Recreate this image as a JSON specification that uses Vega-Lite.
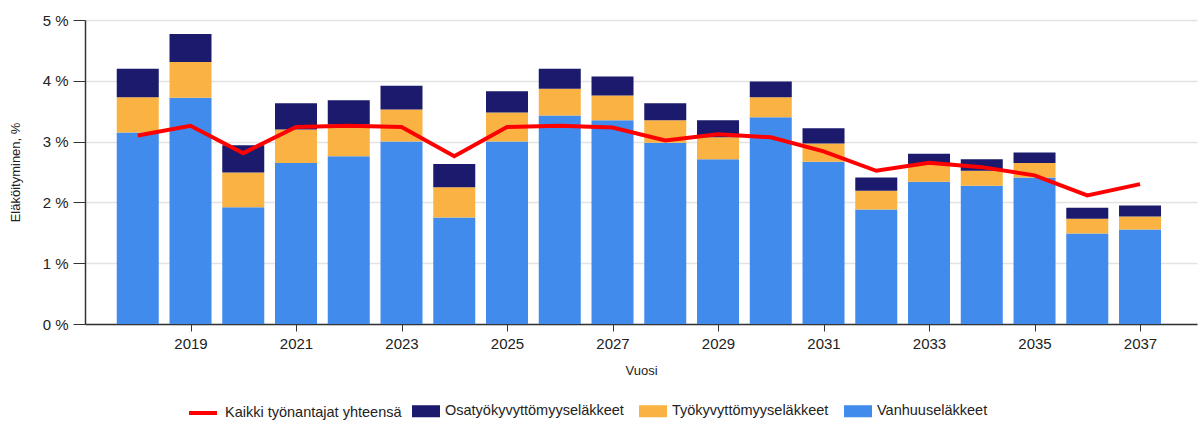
{
  "$schema": "https://vega.github.io/schema/vega-lite/v6.json",
  "width": 1112,
  "height": 304,
  "autosize": {"type": "none"},
  "padding": {"left": 85, "top": 20, "right": 4, "bottom": 102},
  "config": {
    "font": "Liberation Sans",
    "view": {"stroke": null},
    "axis": {"labelFont": "Liberation Sans", "titleFont": "Liberation Sans", "titleFontWeight": "normal", "labelColor": "#222", "titleColor": "#222", "domainColor": "#333", "tickColor": "#333"}
  },
  "datasets": {
    "bars": [
      {"Vuosi": 2018, "tyyppi": "Vanhuuseläkkeet", "arvo": 3.15},
      {"Vuosi": 2018, "tyyppi": "Työkyvyttömyyseläkkeet", "arvo": 0.58},
      {"Vuosi": 2018, "tyyppi": "Osatyökyvyttömyyseläkkeet", "arvo": 0.47},
      {"Vuosi": 2019, "tyyppi": "Vanhuuseläkkeet", "arvo": 3.72},
      {"Vuosi": 2019, "tyyppi": "Työkyvyttömyyseläkkeet", "arvo": 0.59},
      {"Vuosi": 2019, "tyyppi": "Osatyökyvyttömyyseläkkeet", "arvo": 0.46},
      {"Vuosi": 2020, "tyyppi": "Vanhuuseläkkeet", "arvo": 1.92},
      {"Vuosi": 2020, "tyyppi": "Työkyvyttömyyseläkkeet", "arvo": 0.57},
      {"Vuosi": 2020, "tyyppi": "Osatyökyvyttömyyseläkkeet", "arvo": 0.45},
      {"Vuosi": 2021, "tyyppi": "Vanhuuseläkkeet", "arvo": 2.65},
      {"Vuosi": 2021, "tyyppi": "Työkyvyttömyyseläkkeet", "arvo": 0.55},
      {"Vuosi": 2021, "tyyppi": "Osatyökyvyttömyyseläkkeet", "arvo": 0.43},
      {"Vuosi": 2022, "tyyppi": "Vanhuuseläkkeet", "arvo": 2.76},
      {"Vuosi": 2022, "tyyppi": "Työkyvyttömyyseläkkeet", "arvo": 0.52},
      {"Vuosi": 2022, "tyyppi": "Osatyökyvyttömyyseläkkeet", "arvo": 0.40},
      {"Vuosi": 2023, "tyyppi": "Vanhuuseläkkeet", "arvo": 3.00},
      {"Vuosi": 2023, "tyyppi": "Työkyvyttömyyseläkkeet", "arvo": 0.53},
      {"Vuosi": 2023, "tyyppi": "Osatyökyvyttömyyseläkkeet", "arvo": 0.39},
      {"Vuosi": 2024, "tyyppi": "Vanhuuseläkkeet", "arvo": 1.75},
      {"Vuosi": 2024, "tyyppi": "Työkyvyttömyyseläkkeet", "arvo": 0.50},
      {"Vuosi": 2024, "tyyppi": "Osatyökyvyttömyyseläkkeet", "arvo": 0.38},
      {"Vuosi": 2025, "tyyppi": "Vanhuuseläkkeet", "arvo": 3.00},
      {"Vuosi": 2025, "tyyppi": "Työkyvyttömyyseläkkeet", "arvo": 0.48},
      {"Vuosi": 2025, "tyyppi": "Osatyökyvyttömyyseläkkeet", "arvo": 0.35},
      {"Vuosi": 2026, "tyyppi": "Vanhuuseläkkeet", "arvo": 3.43},
      {"Vuosi": 2026, "tyyppi": "Työkyvyttömyyseläkkeet", "arvo": 0.44},
      {"Vuosi": 2026, "tyyppi": "Osatyökyvyttömyyseläkkeet", "arvo": 0.33},
      {"Vuosi": 2027, "tyyppi": "Vanhuuseläkkeet", "arvo": 3.35},
      {"Vuosi": 2027, "tyyppi": "Työkyvyttömyyseläkkeet", "arvo": 0.41},
      {"Vuosi": 2027, "tyyppi": "Osatyökyvyttömyyseläkkeet", "arvo": 0.31},
      {"Vuosi": 2028, "tyyppi": "Vanhuuseläkkeet", "arvo": 2.98},
      {"Vuosi": 2028, "tyyppi": "Työkyvyttömyyseläkkeet", "arvo": 0.37},
      {"Vuosi": 2028, "tyyppi": "Osatyökyvyttömyyseläkkeet", "arvo": 0.28},
      {"Vuosi": 2029, "tyyppi": "Vanhuuseläkkeet", "arvo": 2.71},
      {"Vuosi": 2029, "tyyppi": "Työkyvyttömyyseläkkeet", "arvo": 0.36},
      {"Vuosi": 2029, "tyyppi": "Osatyökyvyttömyyseläkkeet", "arvo": 0.28},
      {"Vuosi": 2030, "tyyppi": "Vanhuuseläkkeet", "arvo": 3.40},
      {"Vuosi": 2030, "tyyppi": "Työkyvyttömyyseläkkeet", "arvo": 0.33},
      {"Vuosi": 2030, "tyyppi": "Osatyökyvyttömyyseläkkeet", "arvo": 0.26},
      {"Vuosi": 2031, "tyyppi": "Vanhuuseläkkeet", "arvo": 2.67},
      {"Vuosi": 2031, "tyyppi": "Työkyvyttömyyseläkkeet", "arvo": 0.30},
      {"Vuosi": 2031, "tyyppi": "Osatyökyvyttömyyseläkkeet", "arvo": 0.25},
      {"Vuosi": 2032, "tyyppi": "Vanhuuseläkkeet", "arvo": 1.885},
      {"Vuosi": 2032, "tyyppi": "Työkyvyttömyyseläkkeet", "arvo": 0.305},
      {"Vuosi": 2032, "tyyppi": "Osatyökyvyttömyyseläkkeet", "arvo": 0.22},
      {"Vuosi": 2033, "tyyppi": "Vanhuuseläkkeet", "arvo": 2.34},
      {"Vuosi": 2033, "tyyppi": "Työkyvyttömyyseläkkeet", "arvo": 0.28},
      {"Vuosi": 2033, "tyyppi": "Osatyökyvyttömyyseläkkeet", "arvo": 0.18},
      {"Vuosi": 2034, "tyyppi": "Vanhuuseläkkeet", "arvo": 2.275},
      {"Vuosi": 2034, "tyyppi": "Työkyvyttömyyseläkkeet", "arvo": 0.245},
      {"Vuosi": 2034, "tyyppi": "Osatyökyvyttömyyseläkkeet", "arvo": 0.19},
      {"Vuosi": 2035, "tyyppi": "Vanhuuseläkkeet", "arvo": 2.41},
      {"Vuosi": 2035, "tyyppi": "Työkyvyttömyyseläkkeet", "arvo": 0.24},
      {"Vuosi": 2035, "tyyppi": "Osatyökyvyttömyyseläkkeet", "arvo": 0.17},
      {"Vuosi": 2036, "tyyppi": "Vanhuuseläkkeet", "arvo": 1.49},
      {"Vuosi": 2036, "tyyppi": "Työkyvyttömyyseläkkeet", "arvo": 0.24},
      {"Vuosi": 2036, "tyyppi": "Osatyökyvyttömyyseläkkeet", "arvo": 0.18},
      {"Vuosi": 2037, "tyyppi": "Vanhuuseläkkeet", "arvo": 1.555},
      {"Vuosi": 2037, "tyyppi": "Työkyvyttömyyseläkkeet", "arvo": 0.215},
      {"Vuosi": 2037, "tyyppi": "Osatyökyvyttömyyseläkkeet", "arvo": 0.18}
    ],
    "line": [
      {"Vuosi": 2018, "yhteensa": 3.10},
      {"Vuosi": 2019, "yhteensa": 3.26},
      {"Vuosi": 2020, "yhteensa": 2.81},
      {"Vuosi": 2021, "yhteensa": 3.24},
      {"Vuosi": 2022, "yhteensa": 3.26},
      {"Vuosi": 2023, "yhteensa": 3.24},
      {"Vuosi": 2024, "yhteensa": 2.76},
      {"Vuosi": 2025, "yhteensa": 3.24},
      {"Vuosi": 2026, "yhteensa": 3.26},
      {"Vuosi": 2027, "yhteensa": 3.23},
      {"Vuosi": 2028, "yhteensa": 3.02},
      {"Vuosi": 2029, "yhteensa": 3.12},
      {"Vuosi": 2030, "yhteensa": 3.07},
      {"Vuosi": 2031, "yhteensa": 2.84},
      {"Vuosi": 2032, "yhteensa": 2.52},
      {"Vuosi": 2033, "yhteensa": 2.65},
      {"Vuosi": 2034, "yhteensa": 2.58},
      {"Vuosi": 2035, "yhteensa": 2.445},
      {"Vuosi": 2036, "yhteensa": 2.115},
      {"Vuosi": 2037, "yhteensa": 2.30}
    ]
  },
  "layer": [
    {
      "data": {"name": "bars"},
      "mark": {"type": "bar", "size": 42},
      "encoding": {
        "x": {
          "field": "Vuosi", "type": "quantitative",
          "scale": {"domain": [2017, 2038.08], "nice": false, "zero": false, "padding": 0},
          "axis": {"title": "Vuosi", "values": [2019, 2021, 2023, 2025, 2027, 2029, 2031, 2033, 2035, 2037], "format": "d", "grid": false, "labelFontSize": 15, "titleFontSize": 13, "tickSize": 7, "labelPadding": 5, "titlePadding": 13, "domainWidth": 1.5}
        },
        "y": {
          "field": "arvo", "type": "quantitative", "stack": "zero",
          "scale": {"domain": [0, 5], "nice": false},
          "axis": {"title": "Eläköityminen, %", "values": [0, 1, 2, 3, 4, 5], "labelExpr": "datum.value + ' %'", "gridColor": "#e3e3e3", "gridWidth": 1.5, "labelFontSize": 15, "titleFontSize": 13, "tickSize": 12, "labelPadding": 5, "titlePadding": 20, "domainWidth": 1.5}
        },
        "color": {
          "field": "tyyppi", "type": "nominal",
          "scale": {"domain": ["Osatyökyvyttömyyseläkkeet", "Työkyvyttömyyseläkkeet", "Vanhuuseläkkeet"], "range": ["#1b1a6c", "#fab342", "#418bed"]},
          "legend": {"title": null, "orient": "none", "legendX": 327, "legendY": 377, "direction": "horizontal", "columns": 3, "symbolType": "M-1,-0.43H1V0.43H-1Z", "symbolSize": 784, "symbolStrokeWidth": 0, "symbolOpacity": 1, "labelFontSize": 14.5, "labelFont": "Liberation Sans", "labelColor": "#222", "labelOffset": 5, "labelLimit": 0, "columnPadding": 15}
        },
        "order": {"field": "tyyppi", "sort": "descending"}
      }
    },
    {
      "data": {"name": "line"},
      "mark": {"type": "line", "strokeWidth": 4, "color": "#ff0000"},
      "encoding": {
        "x": {"field": "Vuosi", "type": "quantitative"},
        "y": {"field": "yhteensa", "type": "quantitative"},
        "color": {
          "datum": "Kaikki työnantajat yhteensä",
          "scale": {"range": ["#ff0000"]},
          "legend": {"title": null, "orient": "none", "legendX": 102, "legendY": 377, "symbolType": "stroke", "symbolSize": 784, "symbolStrokeWidth": 4, "labelFontSize": 14.5, "labelFont": "Liberation Sans", "labelColor": "#222", "labelOffset": 6, "labelLimit": 0}
        }
      }
    }
  ],
  "resolve": {"scale": {"color": "independent"}}
}
